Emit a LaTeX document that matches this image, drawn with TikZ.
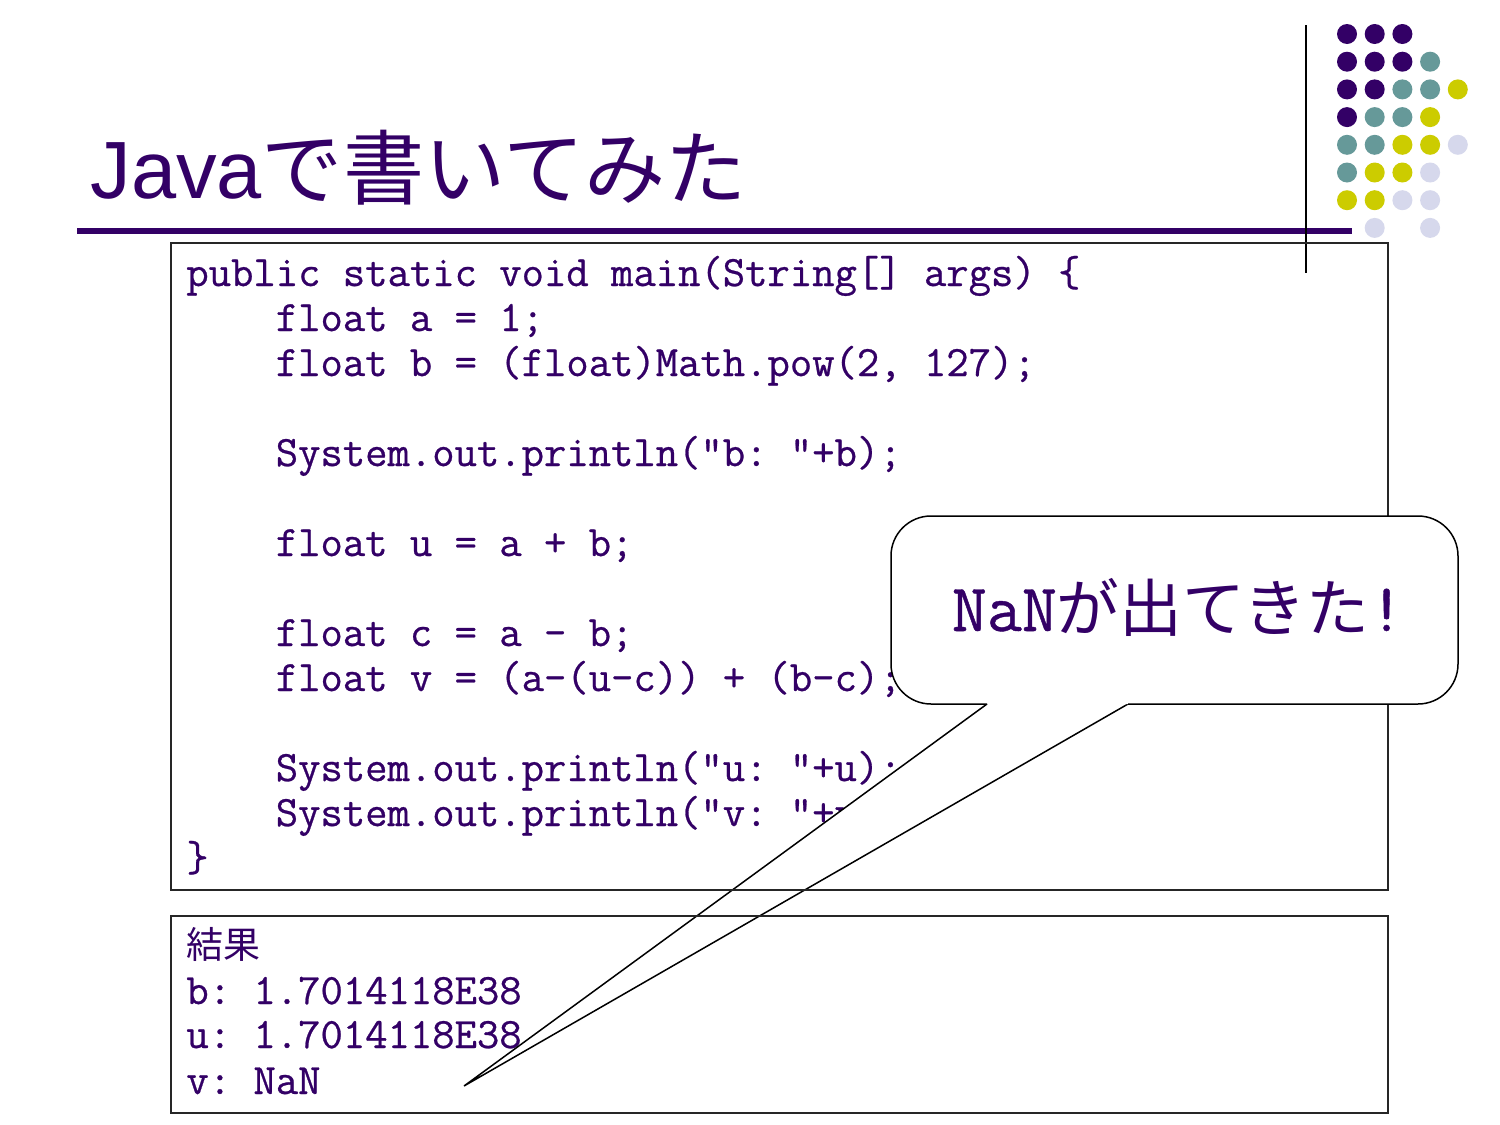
\documentclass[tikz,border=0pt]{standalone}
\usepackage{fontspec}
\setmainfont{Liberation Sans}
\setmonofont{Latin Modern Mono}[FakeBold=0.6]
\newfontfamily\jpfont{Noto Sans CJK JP}
\definecolor{slpurple}{RGB}{51,0,102}
\definecolor{slteal}{RGB}{102,153,153}
\definecolor{slyellow}{RGB}{204,204,0}
\definecolor{sllav}{RGB}{214,216,236}
\newcommand\ind{\phantom{xxxx}}
\tikzset{
  codeline/.style={anchor=base west, inner sep=0pt, text=slpurple,
    font=\ttfamily\fontsize{21.7}{26}\selectfont},
  dotP/.style={fill=slpurple},
  dotT/.style={fill=slteal},
  dotY/.style={fill=slyellow},
  dotL/.style={fill=sllav},
  boxborder/.style={draw=black!85, line width=1pt},
  callout/.style={draw=black, line width=0.75pt}
}
\begin{document}
\begin{tikzpicture}[x=0.5pt,y=-0.5pt]
\useasboundingbox (0,0) rectangle (1500,1125);
\fill[white] (0,0) rectangle (1500,1125);
% title
\node[anchor=base west, inner sep=0pt, text=slpurple, font=\fontsize{40.6}{48}\selectfont] (title) at (90,198) {Java{\jpfont で書いてみた}};
\fill[slpurple] (77,228) rectangle (1352,234);
\draw[black, line width=1pt] (1306,25) -- (1306,273);
% dots
\foreach \c/\r/\s in {0/0/P,1/0/P,2/0/P,
  0/1/P,1/1/P,2/1/P,3/1/T,
  0/2/P,1/2/P,2/2/T,3/2/T,4/2/Y,
  0/3/P,1/3/T,2/3/T,3/3/Y,
  0/4/T,1/4/T,2/4/Y,3/4/Y,4/4/L,
  0/5/T,1/5/Y,2/5/Y,3/5/L,
  0/6/Y,1/6/Y,2/6/L,3/6/L,
  1/7/L,3/7/L}
  \path[dot\s] ({1347+27.7*\c},{34+27.7*\r}) circle[radius=10];
% code text
\node[codeline] (l0) at (186,286) {public static void main(String[] args) \{};
\node[codeline] (l1) at (186,331) {\ind float a = 1;};
\node[codeline] (l2) at (186,376) {\ind float b = (float)Math.pow(2, 127);};
\node[codeline] (l4) at (186,466) {\ind System.out.println("b: "+b);};
\node[codeline] (l6) at (186,556) {\ind float u = a + b;};
\node[codeline] (l8) at (186,646) {\ind float c = a - b;};
\node[codeline] (l9) at (186,691) {\ind float v = (a-(u-c)) + (b-c);};
\node[codeline] (l11) at (186,781) {\ind System.out.println("u: "+u);};
\node[codeline] (l12) at (186,826) {\ind System.out.println("v: "+v);};
\node[codeline] (l13) at (186,871) {\}};
% result text
\node[codeline, font=\jpfont\fontsize{18.5}{22}\selectfont] (r0) at (186,958) {結果};
\node[codeline] (r1) at (186,1004) {b: 1.7014118E38};
\node[codeline] (r2) at (186,1048) {u: 1.7014118E38};
\node[codeline] (r3) at (186,1094) {v: NaN};
% callout tail
\fill[white] (987,704) -- (464,1086) -- (1128,704) -- cycle;
\draw[callout] (987,704) -- (464,1086) -- (1128,704);
% boxes
\draw[boxborder] (171,243) rectangle (1388,890);
\draw[boxborder] (171,916) rectangle (1388,1113);
% callout body
\fill[white, rounded corners=20pt] (891,516) rectangle (1458,704);
\draw[callout, rounded corners=20pt] (1128,704) -- (1458,704) -- (1458,516) -- (891,516) -- (891,704) -- (987,704);
\node[inner sep=0pt, text=slpurple] (msg) at (1178,607)
  {\ttfamily\fontsize{34}{40}\selectfont NaN{\jpfont\fontsize{31.4}{36}\selectfont が出てきた}!};
\end{tikzpicture}
\end{document}
